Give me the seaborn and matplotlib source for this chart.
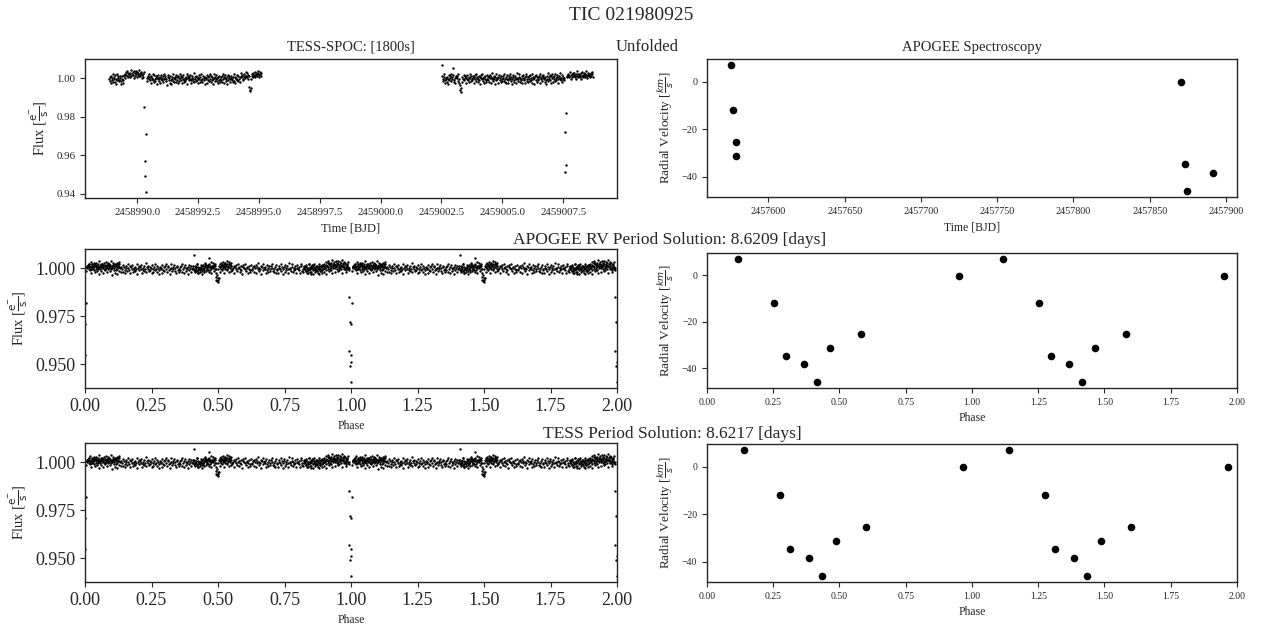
import numpy as np
import pandas as pd
import matplotlib
matplotlib.use("Agg")
import matplotlib.pyplot as plt
import seaborn as sns

TARGET = "TIC 021980925"
CADENCE_DAYS = 1800 / 86400.0

# TESS-SPOC light curve, two orbits.  One base-36 character per 30-min cadence:
#   flux = 1 + (int(c, 36) - 18) * FLUX_STEP      ('i' = 1.0)
#   '_'  = cadence inside primary eclipse, value taken from the eclipse lists
FLUX_STEP = 0.00055
seg1_start = 2458988.85
seg1_code = (
    "hjfkdigmeh" "jelhcmgikf" "gikcfhkdgl" "kmiolkpjnm" "ljnqkmolip"
    "nkpmjolnkq" "mkonilmjo_" "____fijkhm" "gjdkhigmel" "hfkicjhlfi"
    "jdhlgikemh" "ikfhbjlgid" "kgchjmfiej" "hlejgdkifm" "igkdjhlegi"
    "fjhmcikgjh" "ldgikfhnej" "hkfjgidlhe" "jgmhekigcj" "ihdlgjfkhm"
    "ekjghcmifj" "hlfidjkgeh" "jgkemhdjli" "fhjclgikeh" "kighejmfdj"
    "higlfkhejn" "jlkhgmjkio" "kjnlhka769" "hkmjnlkojm" "lnkmpjlomk"
    "n"
)
seg2_start = 2459002.51
seg2_code = (
    "ukfhjmdgih" "ejhclgikmf" "hjlregidkj" "ikfmhdb759" "ejhlgikdjh"
    "lhgjemikfh" "gikdjlhfmi" "jehkgcjlih" "mfijdhkegl" "hgjkeildjh"
    "nfihkcjgmi" "hjdlgiekhf" "kimfhejdlh" "gdkihmfjch" "jlegikhdni"
    "hfjmeighkd" "ilhgjdmkfh" "ejkhlfigdm" "jhcikgljeh" "gkjdmhifkj"
    "lhiejgckhn" "fjhlgdkime" "jkhmfigjlh" "dkjhnigelj" "hig____kjl"
    "mkjohlmjnk" "lnjkmhpkjm" "kmljnhkolj" "nkmjlpkinl" "kmjlnkmoj"
)
eclipse1_flux = [0.985, 0.957, 0.949, 0.941, 0.971]
eclipse2_flux = [0.972, 0.951, 0.955, 0.982]

# Ephemeris
epoch = 2458990.3604
period_apogee = 8.6209
period_tess = 8.6217

# APOGEE radial velocities
rv_time = [2457575.5, 2457576.6, 2457578.4, 2457579.0,
           2457870.7, 2457873.3, 2457874.7, 2457891.5]
rv_kms = [7.0, -11.7, -31.1, -25.4, -0.2, -34.6, -45.8, -38.3]
rv_phase_apogee = [0.1175, 0.2525, 0.466, 0.580, 0.9525, 0.297, 0.4165, 0.366]
rv_phase_tess = [0.138, 0.2745, 0.487, 0.5995, 0.9675, 0.315, 0.4335, 0.386]


def decode(start, code, eclipse):
    eclipse = iter(eclipse)
    t, f = [], []
    for i, c in enumerate(code):
        t.append(start + i * CADENCE_DAYS)
        f.append(next(eclipse) if c == "_" else 1.0 + (int(c, 36) - 18) * FLUX_STEP)
    return t, f


t1, f1 = decode(seg1_start, seg1_code, eclipse1_flux)
t2, f2 = decode(seg2_start, seg2_code, eclipse2_flux)
lc = pd.DataFrame({"time": t1 + t2, "flux": f1 + f2})


def folded_lc(period):
    ph = ((lc["time"] - epoch) / period) % 1.0
    return pd.DataFrame({"phase": np.concatenate([ph, ph + 1]),
                         "flux": np.concatenate([lc["flux"], lc["flux"]])})


def folded_rv(phases):
    ph = np.asarray(phases)
    return pd.DataFrame({"phase": np.concatenate([ph, ph + 1]),
                         "rv": np.concatenate([rv_kms, rv_kms])})


rv = pd.DataFrame({"time": rv_time, "rv": rv_kms})

sns.set_style("ticks")
plt.rcParams["font.family"] = ["Liberation Serif", "DejaVu Serif"]
plt.rcParams["axes.linewidth"] = 1.0

fig = plt.figure(figsize=(12.62, 6.29), dpi=100)
W, H = 1262.0, 629.0


def box(x0, x1, y0, y1):
    return [x0 / W, 1 - y1 / H, (x1 - x0) / W, (y1 - y0) / H]


ax_lc = fig.add_axes(box(85, 617, 59, 198))
ax_rv = fig.add_axes(box(707, 1237, 59, 197))
ax_lc_a = fig.add_axes(box(85, 617, 249, 388))
ax_rv_a = fig.add_axes(box(707, 1237, 253, 388))
ax_lc_t = fig.add_axes(box(85, 617, 443, 582))
ax_rv_t = fig.add_axes(box(707, 1237, 444, 582))

flux_label = r"Flux [$\frac{\mathrm{e}^{-}}{\mathrm{s}}$]"
rv_label = r"Radial Velocity [$\frac{km}{s}$]"
lc_kw = dict(color="black", s=3, linewidth=0)
rv_kw = dict(color="black", s=30, linewidth=0)

# Unfolded light curve
sns.scatterplot(data=lc, x="time", y="flux", ax=ax_lc, **lc_kw)
ax_lc.set_title("TESS-SPOC: [1800s]", fontsize=10.5)
ax_lc.set_xlabel("Time [BJD]", fontsize=9)
ax_lc.set_ylabel(flux_label, fontsize=10.5)
ax_lc.ticklabel_format(useOffset=False, style="plain")
ax_lc.set_xticks([2458990.0, 2458992.5, 2458995.0, 2458997.5,
                  2459000.0, 2459002.5, 2459005.0, 2459007.5])
ax_lc.xaxis.set_major_formatter(matplotlib.ticker.FormatStrFormatter("%.1f"))
ax_lc.set_yticks([0.94, 0.96, 0.98, 1.00])
ax_lc.yaxis.set_major_formatter(matplotlib.ticker.FormatStrFormatter("%.2f"))
ax_lc.tick_params(labelsize=7.8)

# Unfolded radial velocities
sns.scatterplot(data=rv, x="time", y="rv", ax=ax_rv, **rv_kw)
ax_rv.set_title("APOGEE Spectroscopy", fontsize=10.5)
ax_rv.set_xlabel("Time [BJD]", fontsize=8.5)
ax_rv.set_ylabel(rv_label, fontsize=9.5)
ax_rv.ticklabel_format(useOffset=False, style="plain")
ax_rv.set_xticks([2457600, 2457650, 2457700, 2457750, 2457800, 2457850, 2457900])
ax_rv.set_yticks([-40, -20, 0])
ax_rv.tick_params(labelsize=7.3)

# Folded panels
phase_ticks = [0.0, 0.25, 0.5, 0.75, 1.0, 1.25, 1.5, 1.75, 2.0]
for ax_l, ax_r, period, rv_ph in [(ax_lc_a, ax_rv_a, period_apogee, rv_phase_apogee),
                                  (ax_lc_t, ax_rv_t, period_tess, rv_phase_tess)]:
    sns.scatterplot(data=folded_lc(period), x="phase", y="flux", ax=ax_l, **lc_kw)
    ax_l.set_xlim(0, 2)
    ax_l.set_xticks(phase_ticks)
    ax_l.xaxis.set_major_formatter(matplotlib.ticker.FormatStrFormatter("%.2f"))
    ax_l.set_yticks([0.950, 0.975, 1.000])
    ax_l.yaxis.set_major_formatter(matplotlib.ticker.FormatStrFormatter("%.3f"))
    ax_l.tick_params(labelsize=13)
    ax_l.set_xlabel("Phase", fontsize=8.5)
    ax_l.set_ylabel(flux_label, fontsize=10.5)

    sns.scatterplot(data=folded_rv(rv_ph), x="phase", y="rv", ax=ax_r, **rv_kw)
    ax_r.set_xlim(0, 2)
    ax_r.set_xticks(phase_ticks)
    ax_r.xaxis.set_major_formatter(matplotlib.ticker.FormatStrFormatter("%.2f"))
    ax_r.set_yticks([-40, -20, 0])
    ax_r.tick_params(labelsize=7)
    ax_r.set_xlabel("Phase", fontsize=8.5)
    ax_r.set_ylabel(rv_label, fontsize=9.5)

fig.text(0.5, 1 - 15 / H, TARGET, ha="center", va="center", fontsize=14)
fig.text(647 / W, 1 - 47 / H, "Unfolded", ha="center", va="center", fontsize=12)
fig.text(670 / W, 1 - 240 / H, f"APOGEE RV Period Solution: {period_apogee:.4f} [days]",
         ha="center", va="center", fontsize=12.5)
fig.text(672 / W, 1 - 434 / H, f"TESS Period Solution: {period_tess:.4f} [days]",
         ha="center", va="center", fontsize=12.5)

fig.savefig("out.png", dpi=100)
